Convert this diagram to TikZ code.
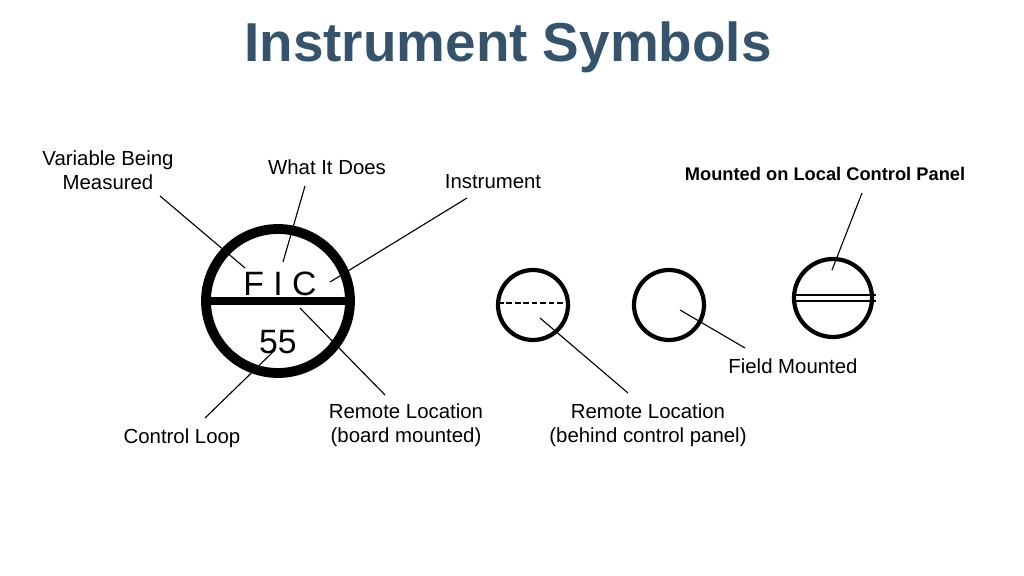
\documentclass[tikz,border=0pt]{standalone}
\usepackage{fontspec}
\setmainfont{Liberation Sans}
\definecolor{titleblue}{RGB}{52,84,110}
\begin{document}
\begin{tikzpicture}[x=0.025cm,y=-0.025cm,
  lbl/.style={font=\fontsize{14.5}{17}\selectfont,align=center,inner sep=1pt},
  lead/.style={line width=0.8pt},
  bubble/.style={line width=3pt}]
\useasboundingbox (0,0) rectangle (1024,576);
% title
\node[font=\fontsize{39}{44}\selectfont\bfseries,text=titleblue] (title) at (508,47) {Instrument Symbols};
% main bubble
\draw[line width=7pt] (278,301) circle (72);
\draw[line width=6pt] (206,301) -- (350,301);
\node[font=\fontsize{24}{26}\selectfont] (fic) at (280,284) {F I C};
\node[font=\fontsize{24}{26}\selectfont] (num) at (278,342) {55};
% labels
\node[lbl] (var) at (108,170) {Variable Being\\Measured};
\node[lbl] (does) at (327,167) {What It Does};
\node[lbl] (inst) at (493,182) {Instrument};
\node[lbl] (loop) at (182,438) {Control Loop};
\node[lbl] (board) at (406,425) {Remote Location\\(board mounted)};
\node[lbl] (behind) at (648,425) {Remote Location\\(behind control panel)};
\node[lbl] (field) at (793,366) {Field Mounted};
\node[font=\fontsize{13}{15}\selectfont\bfseries] (local) at (825,174) {Mounted on Local Control Panel};
% other bubbles
\draw[bubble] (533,305) circle (35);
\draw[line width=1.2pt,dash pattern=on 4pt off 2pt] (498,303) -- (568,303);
\draw[bubble] (669,305) circle (35);
\draw[bubble] (833,298) circle (39);
\draw[line width=1pt] (792,295) -- (876,295);
\draw[line width=1pt] (792,301) -- (876,301);
% leader ends
\coordinate (p1) at (245,268);  \coordinate (q1) at (160,196);
\coordinate (p2) at (283,262);  \coordinate (q2) at (305,186);
\coordinate (p3) at (330,282);  \coordinate (q3) at (467,198);
\coordinate (p4) at (300,308);  \coordinate (q4) at (385,395);
\coordinate (p5) at (275,350);  \coordinate (q5) at (205,418);
\coordinate (p6) at (540,318);  \coordinate (q6) at (628,393);
\coordinate (p7) at (680,310);  \coordinate (q7) at (745,348);
\coordinate (p8) at (832,270);  \coordinate (q8) at (862,193);
\foreach \i in {1,...,8}
  \draw[lead] (q\i) -- (p\i);
\end{tikzpicture}
\end{document}
